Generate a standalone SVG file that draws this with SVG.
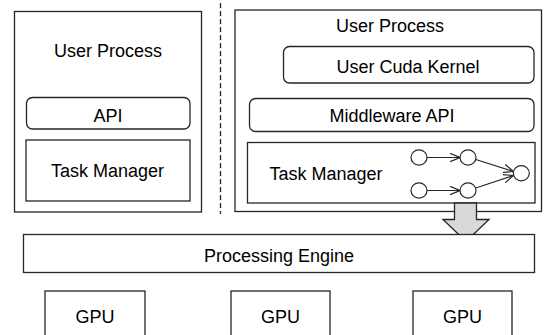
<svg xmlns="http://www.w3.org/2000/svg" width="544" height="335" viewBox="0 0 544 335">
<style>
.b{fill:#fff;stroke:#262626;stroke-width:1.3}
.t{font-family:"Liberation Sans",Arial,sans-serif;font-size:18px;fill:#000;text-anchor:middle}
.c{fill:#fff;stroke:#262626;stroke-width:1.2}
.e{stroke:#262626;stroke-width:1.2;fill:none}
</style>
<defs>
<marker id="ah" viewBox="0 0 10 10" refX="10" refY="5" markerWidth="10" markerHeight="10" markerUnits="userSpaceOnUse" orient="auto">
<path d="M0,0.8 L10,5 L0,9.2" fill="none" stroke="#262626" stroke-width="1.2"/>
</marker>
</defs>
<rect width="544" height="335" fill="#fff"/>
<g id="left-process">
<rect class="b" x="14.5" y="11.5" width="187" height="200.5"/>
<text class="t" x="108" y="56.5">User Process</text>
</g>
<g id="left-api">
<rect class="b" x="26.5" y="97.5" width="163.5" height="31.5" rx="6"/>
<text class="t" x="108" y="121.5">API</text>
</g>
<g id="left-task-manager">
<rect class="b" x="26" y="140" width="164" height="61"/>
<text class="t" x="107.5" y="177">Task Manager</text>
</g>
<line x1="220.5" y1="3" x2="220.5" y2="214" stroke="#262626" stroke-width="1.3" stroke-dasharray="5,3"/>
<g id="right-process">
<rect class="b" x="235" y="10" width="306.5" height="201.5"/>
<text class="t" x="390" y="31.5">User Process</text>
</g>
<g id="user-cuda-kernel">
<rect class="b" x="283.5" y="46.5" width="250.5" height="36.5" rx="6"/>
<text class="t" x="408" y="72.5">User Cuda Kernel</text>
</g>
<g id="middleware-api">
<rect class="b" x="249.5" y="98.5" width="284.5" height="33" rx="6"/>
<text class="t" x="392" y="121.5">Middleware API</text>
</g>
<g id="right-task-manager">
<rect class="b" x="247.5" y="142.5" width="287.5" height="60.5"/>
<text class="t" x="326" y="180">Task Manager</text>
</g>
<g id="dag">
<ellipse id="n1" class="c" cx="419" cy="157.5" rx="8" ry="7.6"/>
<ellipse id="n2" class="c" cx="468" cy="157.5" rx="8" ry="7.6"/>
<ellipse id="n3" class="c" cx="521.3" cy="173.3" rx="8" ry="7.6"/>
<ellipse id="n4" class="c" cx="419" cy="190.5" rx="8" ry="7.6"/>
<ellipse id="n5" class="c" cx="468" cy="190.5" rx="8" ry="7.6"/>
</g>
<g id="connectors">
<line class="e" x1="427" y1="157.5" x2="460" y2="157.5" marker-end="url(#ah)"/>
<line class="e" x1="427" y1="190.5" x2="460" y2="190.5" marker-end="url(#ah)"/>
<line class="e" x1="475.8" y1="159.5" x2="513.5" y2="171.5" marker-end="url(#ah)"/>
<line class="e" x1="475.8" y1="188" x2="513.5" y2="175.5" marker-end="url(#ah)"/>
<path d="M454.5,203 L476.5,203 L476.5,219.5 L489,219.5 L466,241.5 L443,219.5 L454.5,219.5 Z" fill="#d9d9d9" stroke="#262626" stroke-width="1.3"/>
</g>
<g id="processing-engine">
<rect class="b" x="23.5" y="234.5" width="511" height="38"/>
<text class="t" x="279" y="261.5">Processing Engine</text>
</g>
<g id="gpu1">
<rect class="b" x="45" y="291" width="100" height="50"/>
<text class="t" x="95" y="323">GPU</text>
</g>
<g id="gpu2">
<rect class="b" x="231" y="291" width="99" height="50"/>
<text class="t" x="280.5" y="323">GPU</text>
</g>
<g id="gpu3">
<rect class="b" x="413" y="291" width="99" height="50"/>
<text class="t" x="462.5" y="323">GPU</text>
</g>
</svg>
